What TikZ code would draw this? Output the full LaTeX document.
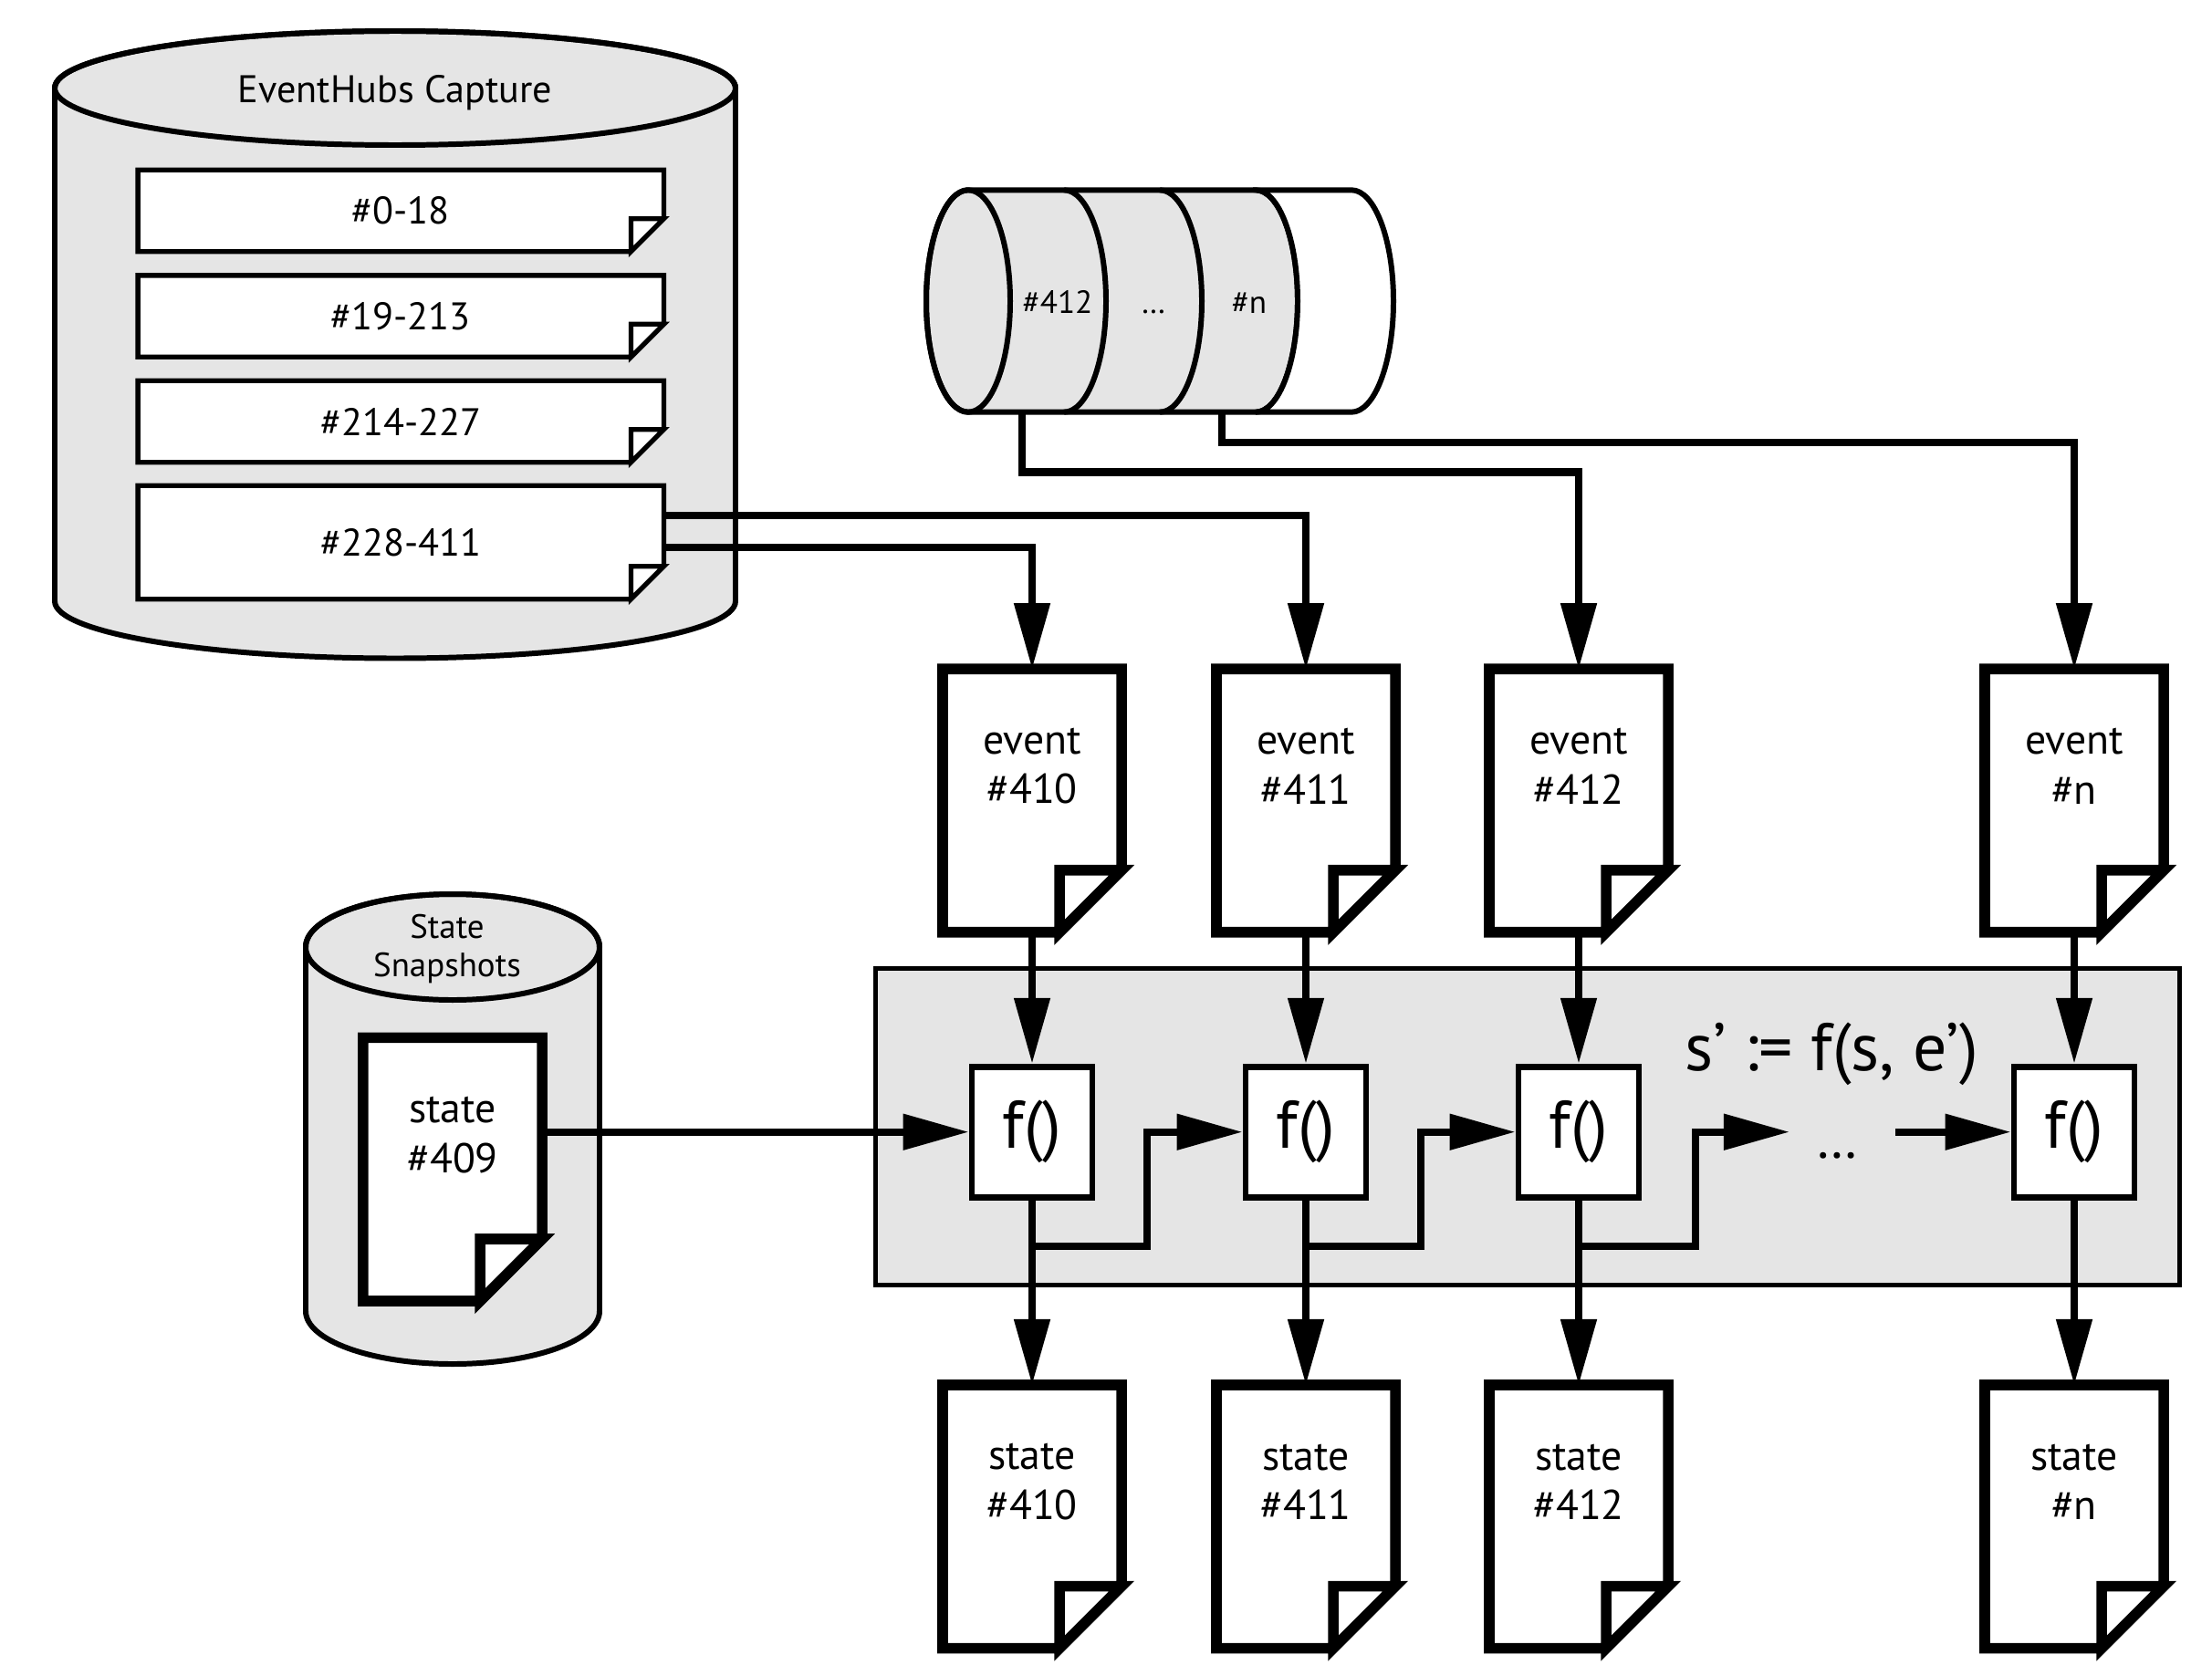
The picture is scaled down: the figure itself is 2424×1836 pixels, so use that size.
\documentclass[tikz,border=0pt]{standalone}
\usepackage{fontspec}
\setmainfont{PT Sans}
\usetikzlibrary{arrows.meta,calc}
\pgfdeclarelayer{back}
\pgfdeclarelayer{paper}
\pgfsetlayers{back,paper,main}
\definecolor{capgray}{HTML}{E5E5E5}

\begin{document}
\begin{tikzpicture}[x=0.01cm,y=0.01cm,
    conn/.style={line width=2.3pt,-{Triangle[length=0.72cm,width=0.38cm]}},
    drum/.style={line width=1.7pt,fill=capgray},
    rim/.style={line width=1.7pt},
    procbox/.style={draw,line width=1.4pt,fill=capgray,minimum width=14.28cm,minimum height=3.46cm},
    segdoc/.style={inner sep=0pt,minimum width=5.746cm,minimum height=0.88cm,font=\fontsize{12}{14}\selectfont},
    bigdoc/.style={inner sep=0pt,minimum width=1.946cm,minimum height=2.87cm},
    doctext/.style={align=center,font=\fontsize{13}{15.6}\selectfont,yshift=0.38cm},
    fbox/.style={draw,fill=white,line width=1.9pt,inner sep=0pt,minimum width=1.32cm,minimum height=1.43cm,font=\fontsize{21}{24}\selectfont}]
    \useasboundingbox (0,0) rectangle (2424,-1836);

    % storage drums and the processing area
    \begin{pgfonlayer}{back}
    \filldraw[drum] (60,-96.5) -- (60,-659) arc[start angle=180,end angle=360,x radius=373,y radius=62.5]
        -- (806,-96.5) arc[start angle=0,end angle=180,x radius=373,y radius=62.5] -- cycle;
    \draw[rim] (433,-96.5) ellipse[x radius=373,y radius=62.5];
    \filldraw[drum] (335,-1038) -- (335,-1437) arc[start angle=180,end angle=360,x radius=161,y radius=58]
        -- (657,-1038) arc[start angle=0,end angle=180,x radius=161,y radius=58] -- cycle;
    \draw[rim] (496,-1038) ellipse[x radius=161,y radius=58];
    % partition lying on its side
    \filldraw[drum] (1061,-208.3) -- (1376,-208.3) arc[start angle=90,end angle=-90,x radius=46,y radius=121.7]
        -- (1061,-451.7) arc[start angle=270,end angle=90,x radius=46,y radius=121.7] -- cycle;
    \filldraw[drum,fill=white] (1376,-208.3) -- (1481,-208.3) arc[start angle=90,end angle=-90,x radius=46,y radius=121.7]
        -- (1376,-451.7) arc[start angle=-90,end angle=90,x radius=46,y radius=121.7] -- cycle;
    \draw[rim] (1061,-330) ellipse[x radius=46,y radius=121.7];
    \foreach \x in {1166,1271}
        \draw[rim] (\x,-208.3) arc[start angle=90,end angle=-90,x radius=46,y radius=121.7];
    \node[procbox] (proc) at (1674,-1235) {};
    \end{pgfonlayer}

    \node[font=\fontsize{12}{14}\selectfont] (capture) at (433,-102) {EventHubs Capture};
    \node[align=center,font=\fontsize{10.5}{12}\selectfont] (snaps) at (490,-1040) {State\\Snapshots};
    \node[anchor=base,font=\fontsize{10}{12}\selectfont] (p412) at (1159,-343) {\#412};
    \node[anchor=base,font=\fontsize{10}{12}\selectfont] (pdots) at (1264,-343) {…};
    \node[anchor=base,font=\fontsize{10}{12}\selectfont] (pn) at (1369,-343) {\#n};
    \coordinate (q412) at (1120,-451.7);
    \coordinate (qn) at (1339,-451.7);

    \node[segdoc] (c1) at (439.3,-231) {\#0-18};
    \node[segdoc] (c2) at (439.3,-346.6) {\#19-213};
    \node[segdoc] (c3) at (439.3,-462) {\#214-227};
    \node[segdoc,minimum height=1.23cm] (c4) at (439.3,-594.5) {\#228-411};

    \foreach \x/\n in {1131/410,1431/411,1730/412,2273/n} {
        \node[bigdoc,label={[doctext]center:event\\\#\n}] (e\n) at (\x,-877.5) {};
        \node[fbox] (f\n) at (\x,-1240.7) {f()};
        \node[bigdoc,label={[doctext]center:state\\\#\n}] (s\n) at (\x,-1662.3) {};
    }
    \node[bigdoc,label={[doctext]center:state\\\#409}] (s409) at (496,-1281.7) {};

    % sheets with a folded corner
    \begin{pgfonlayer}{paper}
    \foreach \p in {c1,c2,c3,c4}
        \filldraw[fill=white,line width=1.5pt] (\p.south west) -- (\p.north west) -- (\p.north east)
            -- ($(\p.south east)+(0,36)$) -- ($(\p.south east)+(-36,0)$) -- cycle
            ($(\p.south east)+(-36,0)$) -- ++(0,36) -- ++(36,0) -- cycle;
    \foreach \p in {e410,e411,e412,en,s409,s410,s411,s412,sn}
        \filldraw[fill=white,line width=3.3pt] (\p.south west) -- (\p.north west) -- (\p.north east)
            -- ($(\p.south east)+(0,68)$) -- ($(\p.south east)+(-68,0)$) -- cycle
            ($(\p.south east)+(-68,0)$) -- ++(0,68) -- ++(68,0) -- cycle;
    \end{pgfonlayer}

    \draw[conn] ([yshift=0.295cm]c4.east) -| (e411.north);
    \draw[conn] ([yshift=-0.055cm]c4.east) -| (e410.north);
    \draw[conn] (q412) -- ++(0,-65.8) -| (e412.north);
    \draw[conn] (qn) -- ++(0,-33.3) -| (en.north);
    \foreach \n in {410,411,412,n} {
        \draw[conn] (e\n.south) -- (f\n.north);
        \draw[conn] (f\n.south) -- (s\n.north);
    }
    \draw[conn] (s409.east |- f410.west) -- (f410.west);
    \draw[conn] ([yshift=-0.5cm]f410.south) -- ++(125.6,0) |- (f411.west);
    \draw[conn] ([yshift=-0.5cm]f411.south) -- ++(125.6,0) |- (f412.west);
    \coordinate (gapin) at (1961,-1240.7);
    \coordinate (gapout) at (2077,-1240.7);
    \draw[conn] ([yshift=-0.5cm]f412.south) -- ++(127.7,0) |- (gapin);
    \draw[conn] (gapout) -- (fn.west);
    \node[anchor=base,font=\fontsize{17}{19}\selectfont] (gapdots) at (2013,-1269) {…};
    \node[font=\fontsize{21}{24}\selectfont] (rule) at (2007,-1155) {s’ := f(s, e’)};
\end{tikzpicture}
\end{document}
